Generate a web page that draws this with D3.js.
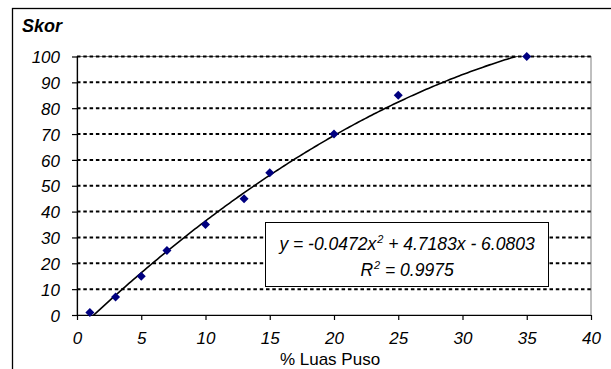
<!DOCTYPE html>
<html>
<head>
<meta charset="utf-8">
<script src="https://cdn.jsdelivr.net/npm/d3@7"></script>
<style>
  body { margin: 0; background: #fff; }
  text { font-family: "Liberation Sans", Arial, sans-serif; }
</style>
</head>
<body>
<div id="vis"></div>
<script>
// data
const luasPuso = [1, 3, 5, 7, 10, 13, 15, 20, 25, 35];
const skor = [1, 7, 15, 25, 35, 45, 55, 70, 85, 100];
const xTicks = [0, 5, 10, 15, 20, 25, 30, 35, 40];
const yTicks = [0, 10, 20, 30, 40, 50, 60, 70, 80, 90, 100];
// trendline coefficients (from the equation label)
const coef = [-0.0472, 4.7183, -6.0803];
const r2 = "0.9975";

const width = 611, height = 369;
const svg = d3.select("#vis").append("svg")
  .attr("width", width)
  .attr("height", height);

const x = d3.scaleLinear().domain([0, 40]).range([77, 591]);
const y = d3.scaleLinear().domain([0, 100]).range([315, 56.5]);

// outer chart frame
svg.append("rect")
  .attr("x", 12.5).attr("y", 8.5)
  .attr("width", width).attr("height", height)
  .attr("fill", "none")
  .attr("stroke", "#000")
  .attr("stroke-width", 1.3);

// plot area border
svg.append("rect")
  .attr("x", x(0)).attr("y", y(100))
  .attr("width", x(40) - x(0)).attr("height", y(0) - y(100))
  .attr("fill", "none")
  .attr("stroke", "#808080")
  .attr("stroke-width", 1);

// gridlines
svg.append("g").selectAll("line")
  .data(yTicks.filter(d => d > 0))
  .join("line")
  .attr("x1", x(0)).attr("x2", x(40))
  .attr("y1", d => y(d)).attr("y2", d => y(d))
  .attr("stroke", "#000")
  .attr("stroke-width", 2)
  .attr("stroke-dasharray", "3.5,2.8");

// axes
const yAxis = d3.axisLeft(y).tickValues(yTicks).tickSize(5).tickSizeOuter(0);
const xAxis = d3.axisBottom(x).tickValues(xTicks).tickSize(5).tickSizeOuter(0);

const gy = svg.append("g").attr("transform", `translate(${x(0)},0)`).call(yAxis);
const gx = svg.append("g").attr("transform", `translate(0,${y(0)})`).call(xAxis);

[gx, gy].forEach(g => {
  g.select(".domain").attr("stroke", "#000").attr("stroke-width", 1.2);
  g.selectAll(".tick line").attr("stroke", "#000").attr("stroke-width", 1.2);
  g.selectAll(".tick text")
    .attr("fill", "#000")
    .style("font-family", "Liberation Sans, Arial, sans-serif")
    .style("font-size", "17px")
    .style("font-style", "italic");
});
gy.selectAll(".tick text").attr("x", -17).attr("dy", "0.36em");
gx.selectAll(".tick text").attr("y", 29).attr("dy", 0);

// trendline, clipped to plot area
svg.append("clipPath").attr("id", "plotClip")
  .append("rect")
  .attr("x", x(0)).attr("y", y(100))
  .attr("width", x(40) - x(0)).attr("height", y(0) - y(100));

const trend = d3.range(0, 201).map(i => {
  const xv = 1 + (35 - 1) * i / 200;
  return [xv, coef[0] * xv * xv + coef[1] * xv + coef[2]];
});
svg.append("path")
  .datum(trend)
  .attr("clip-path", "url(#plotClip)")
  .attr("fill", "none")
  .attr("stroke", "#000")
  .attr("stroke-width", 1.6)
  .attr("d", d3.line().x(d => x(d[0])).y(d => y(d[1])));

// data markers
svg.append("g").selectAll("path")
  .data(luasPuso.map((d, i) => [d, skor[i]]))
  .join("path")
  .attr("transform", d => `translate(${x(d[0])},${y(d[1])})`)
  .attr("d", "M0,-4.5L4.5,0L0,4.5L-4.5,0Z")
  .attr("fill", "#000080");

// equation box
svg.append("rect")
  .attr("x", 265.5).attr("y", 222.5)
  .attr("width", 283).attr("height", 64)
  .attr("fill", "#fff")
  .attr("stroke", "#000")
  .attr("stroke-width", 1);

const eq = svg.append("text")
  .attr("x", 407).attr("y", 250)
  .attr("text-anchor", "middle")
  .style("font-size", "17.5px")
  .style("font-style", "italic");
eq.append("tspan").text(`y = ${coef[0]}x`);
eq.append("tspan").attr("dy", -7).attr("dx", 1).style("font-size", "11px").text("2");
eq.append("tspan").attr("dy", 7).text(`  + ${coef[1]}x - ${Math.abs(coef[2])}`);

const r = svg.append("text")
  .attr("x", 407).attr("y", 276)
  .attr("text-anchor", "middle")
  .style("font-size", "17.5px")
  .style("font-style", "italic");
r.append("tspan").text("R");
r.append("tspan").attr("dy", -7).attr("dx", 1).style("font-size", "11px").text("2");
r.append("tspan").attr("dy", 7).text(`  = ${r2}`);

// axis titles
svg.append("text")
  .attr("x", 22).attr("y", 32)
  .style("font-size", "18px")
  .style("font-weight", "bold")
  .style("font-style", "italic")
  .text("Skor");

svg.append("text")
  .attr("x", 330).attr("y", 365)
  .attr("text-anchor", "middle")
  .style("font-size", "17px")
  .text("% Luas Puso");
</script>
</body>
</html>
